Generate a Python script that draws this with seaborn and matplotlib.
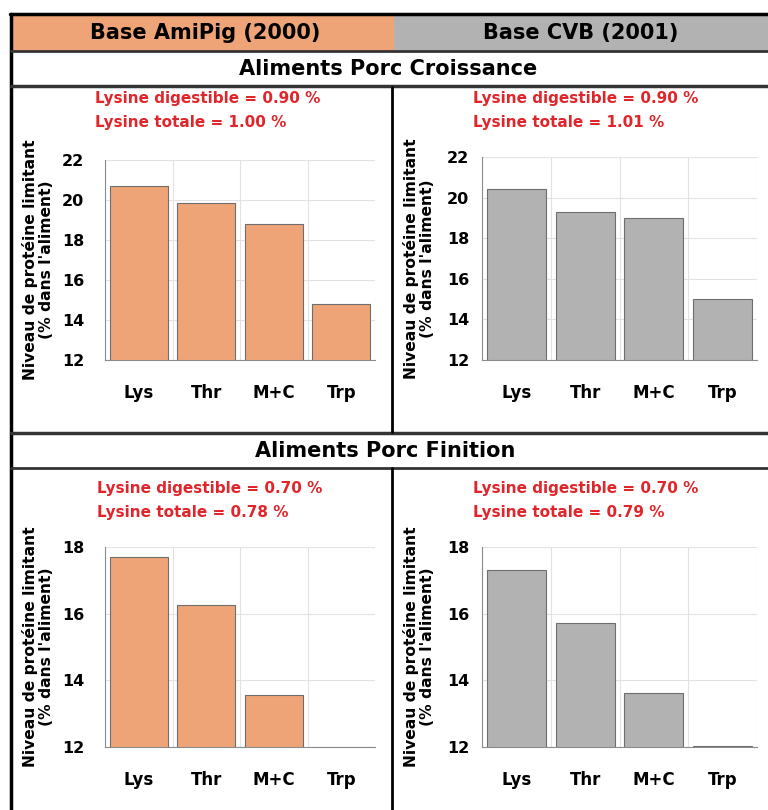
import matplotlib.pyplot as plt
import seaborn as sns
import pandas as pd
from matplotlib.patches import Rectangle

# Data
acides = ["Lys", "Thr", "M+C", "Trp"]
croissance_amipig = [20.7, 19.85, 18.78, 14.8]
croissance_cvb = [20.4, 19.27, 19.0, 15.02]
finition_amipig = [17.69, 16.26, 13.55, 12.0]
finition_cvb = [17.31, 15.71, 13.62, 12.03]
notes_croissance = [["Lysine digestible = 0.90 %", "Lysine totale = 1.00 %"],
                    ["Lysine digestible = 0.90 %", "Lysine totale = 1.01 %"]]
notes_finition = [["Lysine digestible = 0.70 %", "Lysine totale = 0.78 %"],
                  ["Lysine digestible = 0.70 %", "Lysine totale = 0.79 %"]]
bases = ["Base AmiPig (2000)", "Base CVB (2001)"]
stades = ["Aliments Porc Croissance", "Aliments Porc Finition"]

ORANGE = "#EFA478"
GRIS = "#B2B2B2"
ROUGE = "#E0262B"

sns.set_style("white")
plt.rcParams['font.family'] = ['DejaVu Sans']
plt.rcParams['text.color'] = 'black'
plt.rcParams['xtick.color'] = 'black'
plt.rcParams['ytick.color'] = 'black'

W, H = 768, 810
fig = plt.figure(figsize=(W / 100, H / 100), dpi=100)

# background "table" axes in pixel coordinates
bg = fig.add_axes([0, 0, 1, 1])
bg.set_xlim(0, W)
bg.set_ylim(H, 0)
bg.axis("off")

bg.add_patch(Rectangle((11, 14), 383, 37, facecolor=ORANGE, edgecolor="none"))
bg.add_patch(Rectangle((394, 14), W - 394, 37, facecolor=GRIS, edgecolor="none"))
bg.plot([10, W], [14, 14], color="black", lw=2.5)
bg.plot([11, 11], [14, H], color="black", lw=2.5)
bg.plot([11, W], [50.5, 50.5], color="#333333", lw=2)
bg.plot([11, W], [86, 86], color="#333333", lw=2.5)
bg.plot([11, W], [433, 433], color="#333333", lw=2.5)
bg.plot([11, W], [467.5, 467.5], color="#333333", lw=2)
bg.plot([392, 392], [87, 432], color="black", lw=2)
bg.plot([392, 392], [468, H], color="black", lw=2)

bg.text(205, 33, bases[0], ha="center", va="center", fontsize=15, fontweight="bold")
bg.text(581, 33, bases[1], ha="center", va="center", fontsize=15, fontweight="bold")
bg.text(388, 69, stades[0], ha="center", va="center", fontsize=15, fontweight="bold")
bg.text(385, 451, stades[1], ha="center", va="center", fontsize=15, fontweight="bold")


def panneau(box, valeurs, couleur, ylim, yticks, notes, note_x, note_y, ylab_x, ypad):
    x0, y0, x1, y1 = box
    ax = fig.add_axes([x0 / W, 1 - y1 / H, (x1 - x0) / W, (y1 - y0) / H])
    df = pd.DataFrame({"acide": acides, "niveau": valeurs})
    sns.barplot(data=df, x="acide", y="niveau", color=couleur, width=0.86,
                edgecolor="#6E6E6E", linewidth=0.8, saturation=1, ax=ax)
    ax.set_ylim(*ylim)
    ax.set_xlim(-0.5, 3.5)
    ax.set_yticks(yticks)
    ax.set_xticks([-0.5, 0.5, 1.5, 2.5, 3.5], minor=True)
    ax.grid(True, axis="y", which="major", color="#E2E2E2", lw=0.8)
    ax.grid(True, axis="x", which="minor", color="#E2E2E2", lw=0.8)
    ax.set_axisbelow(True)
    for s in ["top", "right"]:
        ax.spines[s].set_visible(False)
    for s in ["left", "bottom"]:
        ax.spines[s].set_color("#8C8C8C")
        ax.spines[s].set_linewidth(0.8)
    ax.tick_params(axis="x", which="major", length=0, pad=17, labelsize=12)
    ax.tick_params(axis="x", which="minor", length=4, color="#8C8C8C", direction="out")
    ax.tick_params(axis="y", length=4, color="#8C8C8C", labelcolor="black",
                   pad=ypad, labelsize=11.5)
    for lab in ax.get_xticklabels() + ax.get_yticklabels():
        lab.set_fontweight("bold")
    ax.set_xlabel("")
    ax.set_ylabel("")
    bg.text(ylab_x, (y0 + y1) / 2, "Niveau de protéine limitant\n(% dans l'aliment)",
            rotation=90, ha="center", va="center", fontsize=11.2, fontweight="bold",
            linespacing=1.1)
    bg.text(note_x, note_y, notes[0], color=ROUGE, fontsize=11, fontweight="bold",
            ha="left", va="center")
    bg.text(note_x, note_y + 24, notes[1], color=ROUGE, fontsize=11, fontweight="bold",
            ha="left", va="center")
    return ax


panneau((105, 160, 375, 360), croissance_amipig, ORANGE, (12, 22), [12, 14, 16, 18, 20, 22],
        notes_croissance[0], 95, 99, 38, 11)
panneau((482, 157, 757, 360), croissance_cvb, GRIS, (12, 22), [12, 14, 16, 18, 20, 22],
        notes_croissance[1], 473, 99, 419, 5)
panneau((105, 547, 375, 747), finition_amipig, ORANGE, (12, 18), [12, 14, 16, 18],
        notes_finition[0], 97, 488, 38, 11)
panneau((482, 547, 757, 747), finition_cvb, GRIS, (12, 18), [12, 14, 16, 18],
        notes_finition[1], 473, 488, 419, 5)

fig.savefig("out.png", dpi=100)
